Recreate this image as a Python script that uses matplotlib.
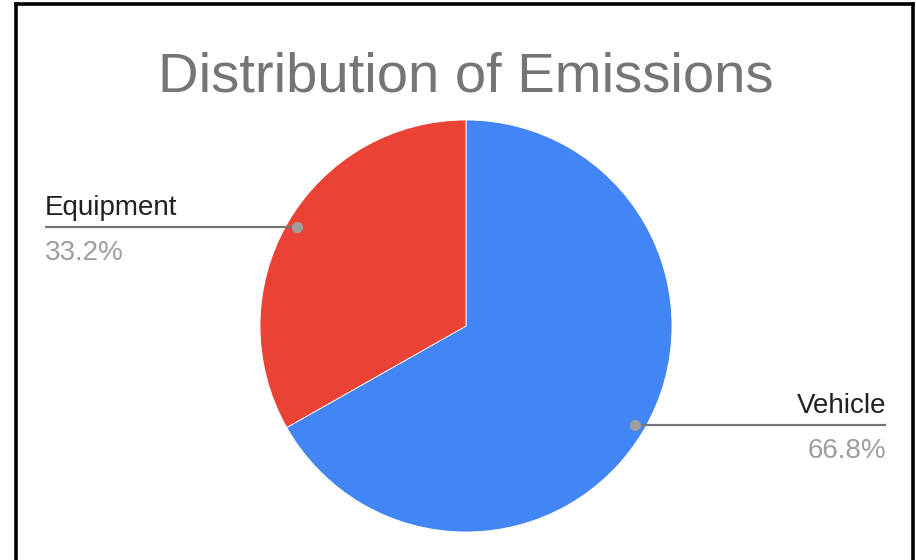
import matplotlib
matplotlib.use("Agg")
import matplotlib.pyplot as plt
from matplotlib.lines import Line2D
import numpy as np

plt.rcParams['font.family'] = ['Liberation Sans', 'DejaVu Sans']

title = "Distribution of Emissions"
categories = ["Vehicle", "Equipment"]
values = [66.8, 33.2]
colors = ["#4285F4", "#EA4335"]

W, H = 916, 560
fig = plt.figure(figsize=(W / 100, H / 100), dpi=100)
fig.patch.set_facecolor("white")

# Axes in pixel units (y measured upward)
ax = fig.add_axes([0, 0, 1, 1])
ax.set_xlim(0, W)
ax.set_ylim(0, H)
ax.set_aspect("equal")
ax.axis("off")

cx, cy, R = 466, H - 326, 206
wedges, _ = ax.pie(values, colors=colors, startangle=90, counterclock=False,
                   center=(cx, cy), radius=R,
                   wedgeprops=dict(linewidth=0.6, edgecolor="white"))
ax.set_xlim(0, W)
ax.set_ylim(0, H)

ax.text(cx, H - 91, title, ha="center", va="baseline", fontsize=40.5,
        color="#757575")

# Leader lines and labels
total = sum(values)
cum = 0.0
for name, v in zip(categories, values):
    mid = (cum + v / 2) / total * 360.0
    cum += v
    ang = np.deg2rad(90 - mid)
    px = cx + 0.95 * R * np.cos(ang)
    py = cy + 0.95 * R * np.sin(ang)
    if np.cos(ang) >= 0:
        x_end, ha = 886, "right"
    else:
        x_end, ha = 45, "left"
    ax.plot([px, x_end], [py, py], color="#757575", lw=1.6, solid_capstyle="butt", zorder=3)
    ax.plot([px], [py], "o", color="#9E9E9E", ms=8, mec="none", zorder=4)
    ax.text(x_end, py + 12, name, ha=ha, va="baseline", fontsize=20, color="#212121")
    ax.text(x_end, py - 33, f"{v:.1f}%", ha=ha, va="baseline", fontsize=20, color="#9E9E9E")

# Frame around the chart (open at the bottom)
lw = 2.6
for xs, ys in [([16 / W, 16 / W], [0, 1 - 4 / H]),
               ([16 / W, 913 / W], [1 - 4 / H, 1 - 4 / H]),
               ([913 / W, 913 / W], [1 - 4 / H, 0])]:
    fig.add_artist(Line2D(xs, ys, transform=fig.transFigure, color="black", lw=lw))

fig.savefig("out.png", dpi=100, facecolor="white")
